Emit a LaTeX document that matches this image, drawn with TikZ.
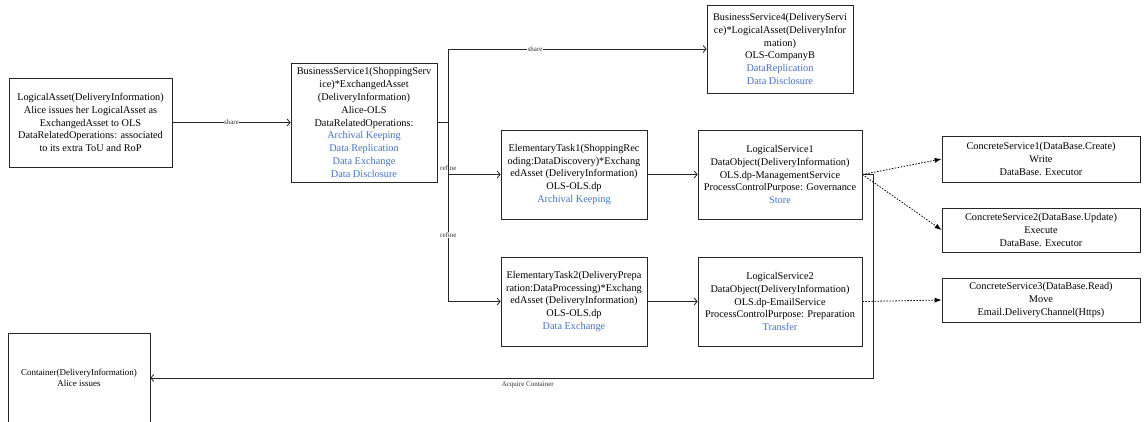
\documentclass[tikz,border=0pt]{standalone}
\usepackage{fontspec}
\setmainfont{Liberation Serif}
\usetikzlibrary{arrows.meta}
\definecolor{opblue}{HTML}{4472C4}
\begin{document}
\begin{tikzpicture}[x=1pt,y=-1pt,
  box/.style={draw=black!85, line width=0.7pt, align=center, inner sep=0pt,
    font=\fontsize{10.3}{12.8}\selectfont, fill=white},
  arr/.style={draw=black!85, line width=0.8pt, -{Straight Barb[length=3pt,width=7pt]}},
  darr/.style={draw=black, line width=0.8pt, dash pattern=on 1.5pt off 1.5pt,
    -{Latex[length=7pt,width=5pt]}},
  lbl/.style={font=\fontsize{7}{8}\selectfont, fill=white, inner sep=0.5pt, text=black!80}]
\useasboundingbox (0,0) rectangle (1144,422);

\node[box, minimum width=163, minimum height=89] (la) at (90.5,122.5)
  {LogicalAsset(DeliveryInformation)\\Alice issues her LogicalAsset as\\ExchangedAsset to OLS\\DataRelatedOperations: associated\\to its extra ToU and RoP};
\node[box, minimum width=146, minimum height=119] (bs1) at (364,122.5)
  {BusinessService1(ShoppingServ\\ice)*ExchangedAsset\\(DeliveryInformation)\\Alice-OLS\\DataRelatedOperations:\\
   \textcolor{opblue}{Archival Keeping}\\\textcolor{opblue}{Data Replication}\\\textcolor{opblue}{Data Exchange}\\\textcolor{opblue}{Data Disclosure}};
\node[box, minimum width=146, minimum height=88] (bs4) at (780,49)
  {BusinessService4(DeliveryServi\\ce)*LogicalAsset(DeliveryInfor\\mation)\\OLS-CompanyB\\
   \textcolor{opblue}{DataReplication}\\\textcolor{opblue}{Data Disclosure}};
\node[box, minimum width=146, minimum height=89] (et1) at (574,174.5)
  {ElementaryTask1(ShoppingRec\\oding:DataDiscovery)*Exchang\\edAsset (DeliveryInformation)\\OLS-OLS.dp\\\textcolor{opblue}{Archival Keeping}};
\node[box, minimum width=164, minimum height=89] (ls1) at (780,174.5)
  {LogicalService1\\DataObject(DeliveryInformation)\\OLS.dp-ManagementService\\ProcessControlPurpose: Governance\\\textcolor{opblue}{Store}};
\node[box, minimum width=146, minimum height=89] (et2) at (574,301.5)
  {ElementaryTask2(DeliveryPrepa\\ration:DataProcessing)*Exchang\\edAsset (DeliveryInformation)\\OLS-OLS.dp\\\textcolor{opblue}{Data Exchange}};
\node[box, minimum width=164, minimum height=89] (ls2) at (780,301.5)
  {LogicalService2\\DataObject(DeliveryInformation)\\OLS.dp-EmailService\\ProcessControlPurpose: Preparation\\\textcolor{opblue}{Transfer}};
\node[box, minimum width=198, minimum height=46] (cs1) at (1041,159)
  {ConcreteService1(DataBase.Create)\\Write\\DataBase. Executor};
\node[box, minimum width=198, minimum height=44] (cs2) at (1041,230)
  {ConcreteService2(DataBase.Update)\\Execute\\DataBase. Executor};
\node[box, minimum width=198, minimum height=44] (cs3) at (1041,300)
  {ConcreteService3(DataBase.Read)\\Move\\Email.DeliveryChannel(Https)};
\node[box, minimum width=142, minimum height=90, font=\fontsize{9}{11}\selectfont] (cont) at (79,378)
  {Container(DeliveryInformation)\\Alice issues};

\draw[arr] (la) -- node[lbl]{share} (bs1);
\draw[arr] (bs1.east) -- ++(11,0) |- node[lbl, pos=0.668]{share} (bs4.west);
\draw[arr] (bs1.east) -- ++(11,0) |- node[lbl, pos=0.5, yshift=6pt]{refine} (et1.west);
\draw[arr] (bs1.east) -- ++(11,0) |- node[lbl, pos=0.315]{refine} (et2.west);
\draw[arr] (et1) -- (ls1);
\draw[arr] (et2) -- (ls2);
\draw[darr] (ls1.east) -- (cs1.west);
\draw[darr] (ls1.east) -- (cs2.west);
\draw[darr] (ls2.east) -- (cs3.west);
\draw[arr] (ls1.east) -- ++(11,0) |- node[lbl, pos=0.739, yshift=-7pt]{Acquire Container} (cont.east);
\end{tikzpicture}
\end{document}
